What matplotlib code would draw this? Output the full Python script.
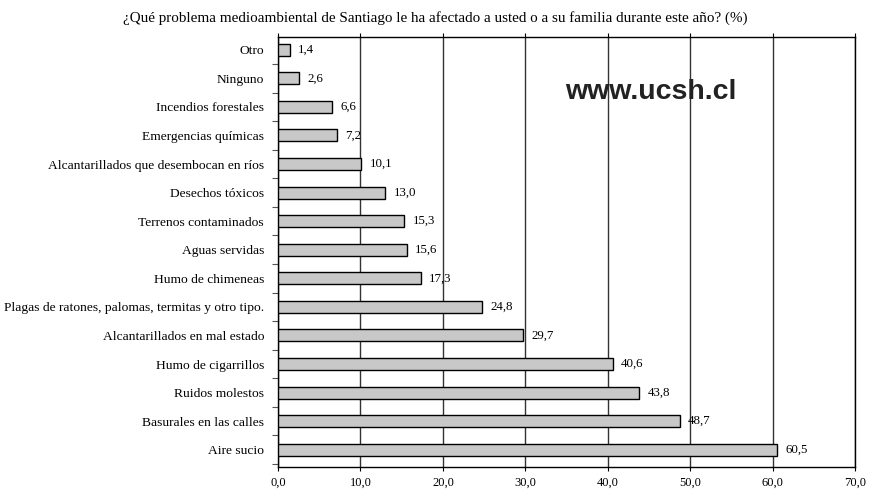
import numpy as np
import matplotlib.pyplot as plt
from matplotlib.ticker import FixedLocator

# Data (bottom to top)
categories = ['Aire sucio', 'Basurales en las calles', 'Ruidos molestos',
              'Humo de cigarrillos', 'Alcantarillados en mal estado',
              'Plagas de ratones, palomas, termitas y otro tipo.',
              'Humo de chimeneas', 'Aguas servidas', 'Terrenos contaminados',
              'Desechos tóxicos', 'Alcantarillados que desembocan en ríos',
              'Emergencias químicas', 'Incendios forestales', 'Ninguno', 'Otro']
values = [60.5, 48.7, 43.8, 40.6, 29.7, 24.8, 17.3, 15.6, 15.3, 13.0,
          10.1, 7.2, 6.6, 2.6, 1.4]
xticks = [0, 10, 20, 30, 40, 50, 60, 70]

plt.rcParams['font.family'] = ['Liberation Serif', 'DejaVu Serif']

fig = plt.figure(figsize=(8.7, 4.92), dpi=100)
ax = fig.add_axes([0.3195, 0.051, 0.6635, 0.874])

y = np.arange(len(categories))
ax.barh(y, values, height=0.42, color='#c8c8c8', edgecolor='black',
        linewidth=1.0, zorder=3)

for yi, v in zip(y, values):
    ax.text(v + 1.0, yi, f'{v:.1f}'.replace('.', ','), va='center',
            ha='left', fontsize=9.3, zorder=4)

ax.set_xlim(0, 70)
ax.set_ylim(-0.6, 14.45)

ax.set_xticks(xticks)
ax.set_xticklabels([f'{t:.1f}'.replace('.', ',') for t in xticks], fontsize=9)
ax.tick_params(axis='x', which='major', top=True, direction='out', length=3,
               pad=4, width=0.8)
ax.xaxis.grid(True, color='#333333', linewidth=1.0, zorder=1)

ax.set_yticks(y)
ax.set_yticklabels(categories, fontsize=9.7)
ax.tick_params(axis='y', which='major', length=0, pad=10)
ax.yaxis.set_minor_locator(FixedLocator(np.arange(-0.5, len(categories), 1.0)))
ax.tick_params(axis='y', which='minor', direction='out', length=4, width=0.8,
               color='#555555')

for s in ax.spines.values():
    s.set_linewidth(1.0)
    s.set_color('black')

ax.text(0.497, 0.872, 'www.ucsh.cl', transform=ax.transAxes,
        fontsize=20.5, fontweight='bold', family='Liberation Sans',
        color='#222222', ha='left', va='center', zorder=5)

fig.text(0.5, 0.963, '¿Qué problema medioambiental de Santiago le ha afectado '
         'a usted o a su familia durante este año? (%)', ha='center',
         va='center', fontsize=10.9)

fig.savefig('out.png', dpi=100)
